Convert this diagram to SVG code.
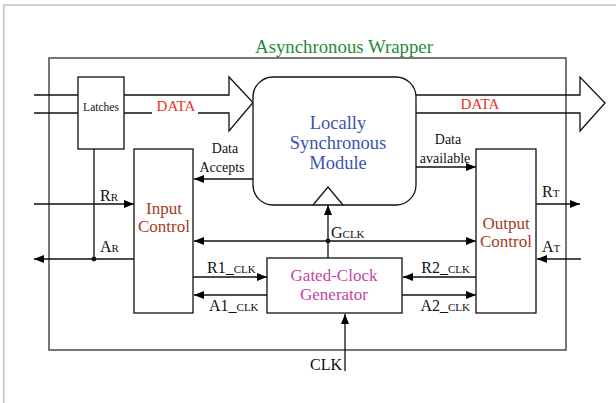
<svg xmlns="http://www.w3.org/2000/svg" width="616" height="403" viewBox="0 0 616 403" font-family="'Liberation Serif', 'DejaVu Serif', serif">
  <defs>
    <marker id="arrow" viewBox="0 0 10 8" refX="10" refY="4" markerWidth="10" markerHeight="8" markerUnits="userSpaceOnUse" orient="auto">
      <path d="M0,0 L10,4 L0,8 z" fill="#000"/>
    </marker>
    <style>
      text { fill: #111; }
      .box { fill: #fff; stroke: #111; stroke-width: 1.3; }
      .wire { fill: none; stroke: #111; stroke-width: 1.3; }
      .arr { marker-end: url(#arrow); }
      .dot { fill: #111; }
      .title { fill: #1f8a3e; font-size: 18.8px; }
      .data { fill: #e8332b; font-size: 15px; }
      .lsm { fill: #3b52b0; font-size: 18.5px; }
      .ctl { fill: #a63c24; font-size: 17px; }
      .gen { fill: #c545a6; font-size: 17px; }
      .lbl { font-size: 14px; }
      .sig { font-size: 16px; }
      .sc { font-size: 11px; }
    </style>
  </defs>

  <rect width="616" height="403" fill="#fff"/>
  <!-- page frame -->
  <path d="M616,5 H3.7 V403" fill="none" stroke="#c4c4c4" stroke-width="1.6"/>

  <!-- wrapper -->
  <g id="wrapper">
    <rect x="49" y="58" width="517" height="292" fill="none" stroke="#555" stroke-width="1.6"/>
    <text class="title" x="344" y="53" text-anchor="middle">Asynchronous Wrapper</text>
  </g>

  <!-- connectors -->
  <g id="connectors">
    <!-- incoming data bus into latches -->
    <line class="wire" x1="34" y1="95" x2="78" y2="95"/>
    <line class="wire" x1="34" y1="113" x2="78" y2="113"/>
    <!-- data bus arrow latches -> module -->
    <polyline class="wire" points="124,95 229,95 229,77 253,102.5 229,131 229,113 124,113"/>
    <rect x="152" y="106" width="46" height="10" fill="#fff"/>
    <text class="data" x="176" y="111" text-anchor="middle">DATA</text>
    <!-- data bus arrow module -> out -->
    <polyline class="wire" points="416,95 580,95 580,77 605,103 580,131 580,113 416,113"/>
    <text class="data" x="480" y="109" text-anchor="middle">DATA</text>

    <!-- handshakes with module -->
    <line class="wire arr" x1="253" y1="179" x2="194" y2="179"/>
    <text class="lbl" x="225" y="153" text-anchor="middle">Data</text>
    <text class="lbl" x="222" y="172" text-anchor="middle">Accepts</text>
    <line class="wire arr" x1="416" y1="167" x2="476" y2="167"/>
    <text class="lbl" x="448" y="144" text-anchor="middle">Data</text>
    <text class="lbl" x="445" y="163" text-anchor="middle">available</text>

    <!-- input port handshake -->
    <line class="wire arr" x1="34" y1="204" x2="134" y2="204"/>
    <text class="sig" x="100" y="201">R<tspan class="sc">R</tspan></text>
    <line class="wire arr" x1="134" y1="259" x2="34" y2="259"/>
    <text class="sig" x="100" y="252">A<tspan class="sc">R</tspan></text>
    <line class="wire" x1="94" y1="149" x2="94" y2="259"/>
    <circle class="dot" cx="94" cy="259" r="2.4"/>

    <!-- output port handshake -->
    <line class="wire arr" x1="536" y1="204" x2="580" y2="204"/>
    <text class="sig" x="542" y="197">R<tspan class="sc">T</tspan></text>
    <line class="wire arr" x1="581" y1="259" x2="537" y2="259"/>
    <text class="sig" x="542" y="252">A<tspan class="sc">T</tspan></text>

    <!-- gated clock distribution -->
    <line class="wire arr" x1="328" y1="258" x2="328" y2="205"/>
    <line class="wire arr" x1="328" y1="241" x2="194" y2="241"/>
    <line class="wire arr" x1="328" y1="241" x2="476" y2="241"/>
    <circle class="dot" cx="328" cy="241" r="2.4"/>
    <text class="sig" x="331" y="238">G<tspan class="sc" font-size="12px">CLK</tspan></text>

    <!-- clock generator handshakes -->
    <line class="wire arr" x1="193" y1="277" x2="267" y2="277"/>
    <text class="sig" x="207" y="273">R1_<tspan class="sc">CLK</tspan></text>
    <line class="wire arr" x1="267" y1="295" x2="194" y2="295"/>
    <text class="sig" x="209" y="311">A1_<tspan class="sc">CLK</tspan></text>
    <line class="wire arr" x1="476" y1="277" x2="403" y2="277"/>
    <text class="sig" x="470" y="273" text-anchor="end">R2_<tspan class="sc">CLK</tspan></text>
    <line class="wire arr" x1="402" y1="295" x2="476" y2="295"/>
    <text class="sig" x="470" y="311" text-anchor="end">A2_<tspan class="sc">CLK</tspan></text>

    <!-- external clock -->
    <line class="wire arr" x1="345" y1="371" x2="345" y2="314"/>
    <text class="sig" x="342" y="370" text-anchor="end">CLK</text>
  </g>

  <!-- nodes -->
  <g id="latches">
    <rect class="box" x="78" y="77" width="46" height="72"/>
    <text x="101" y="111" text-anchor="middle" font-size="11.5px">Latches</text>
  </g>

  <g id="module">
    <rect class="box" x="253" y="77" width="163" height="128" rx="20" ry="20"/>
    <polyline class="wire" points="313,205 328,187 343,205"/>
    <text class="lsm" x="338" y="129" text-anchor="middle">Locally</text>
    <text class="lsm" x="338" y="149" text-anchor="middle">Synchronous</text>
    <text class="lsm" x="338" y="169" text-anchor="middle">Module</text>
  </g>

  <g id="input-control">
    <rect class="box" x="134" y="149" width="59" height="164"/>
    <text class="ctl" x="164" y="214" text-anchor="middle">Input</text>
    <text class="ctl" x="164" y="232" text-anchor="middle">Control</text>
  </g>

  <g id="output-control">
    <rect class="box" x="476" y="149" width="60" height="164"/>
    <text class="ctl" x="506" y="229" text-anchor="middle">Output</text>
    <text class="ctl" x="506" y="247" text-anchor="middle">Control</text>
  </g>

  <g id="clock-generator">
    <rect class="box" x="267" y="258" width="135" height="55"/>
    <text class="gen" x="334" y="281" text-anchor="middle">Gated-Clock</text>
    <text class="gen" x="334" y="300" text-anchor="middle">Generator</text>
  </g>
</svg>
